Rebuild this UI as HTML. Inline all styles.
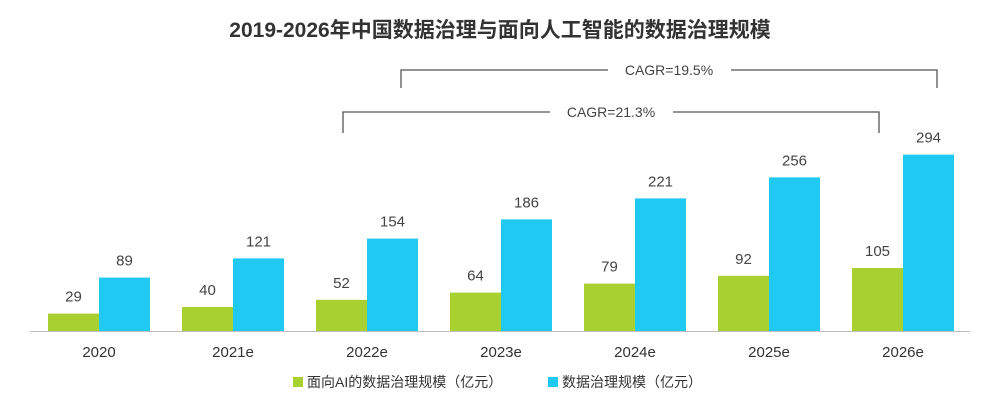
<!DOCTYPE html>
<html><head><meta charset="utf-8"><style>
body{margin:0;background:#fff;}
svg text{font-family:"Liberation Sans","Noto Sans CJK SC",sans-serif;}
</style></head><body>
<svg width="1000" height="409" viewBox="0 0 1000 409">
<text x="500" y="37" text-anchor="middle" font-size="21" font-weight="bold" fill="#333">2019-2026年中国数据治理与面向人工智能的数据治理规模</text>
<g id="bars"></g>
<line x1="30" y1="331.5" x2="970" y2="331.5" stroke="#bfbfbf" stroke-width="1"/>
<g fill="none" stroke="#555" stroke-width="1.3">
<polyline points="401,88 401,70 608,70"/><polyline points="731,70 937,70 937,88"/>
</g>
<text x="669" y="75" text-anchor="middle" font-size="14" fill="#444">CAGR=19.5%</text>
<g fill="none" stroke="#555" stroke-width="1.3">
<polyline points="343,133 343,112 550,112"/><polyline points="673,112 879,112 879,133"/>
</g>
<text x="611" y="117" text-anchor="middle" font-size="14" fill="#444">CAGR=21.3%</text>
<rect x="293" y="377" width="10" height="10" fill="#a8d030"/>
<text x="307" y="387" font-size="14" fill="#333">面向AI的数据治理规模（亿元）</text>
<rect x="548" y="377" width="10" height="10" fill="#1fc9f1"/>
<text x="562" y="387" font-size="14" fill="#333">数据治理规模（亿元）</text>
</svg>
<script>
const categories=["2020","2021e","2022e","2023e","2024e","2025e","2026e"];
const aiValues=[29,40,52,64,79,92,105];
const totalValues=[89,121,154,186,221,256,294];
const base=331, scale=0.6, x0=48, step=134, bw=51;
const y=v=>base-v*scale;
const g=document.getElementById('bars');
const NS="http://www.w3.org/2000/svg";
function mk(t,a){const e=document.createElementNS(NS,t);for(const k in a)e.setAttribute(k,a[k]);return e;}
categories.forEach((c,i)=>{
  const gx=x0+i*step;
  [[aiValues[i],gx,'#a8d030','ai'],[totalValues[i],gx+bw,'#1fc9f1','total']].forEach(([v,x,col,n])=>{
    const r=mk('rect',{x:x,y:y(v),width:bw,height:v*scale,fill:col});
    
    
    g.appendChild(r);
    const t=mk('text',{x:x+bw/2,y:y(v)-12,'text-anchor':'middle','font-size':'15',fill:'#444'});
    t.textContent=v;
    
    
    g.appendChild(t);
  });
  const l=mk('text',{x:gx+bw,y:357,'text-anchor':'middle','font-size':'15',fill:'#333'});
  l.textContent=c;
  
  
  g.appendChild(l);
});
</script>
</body></html>
